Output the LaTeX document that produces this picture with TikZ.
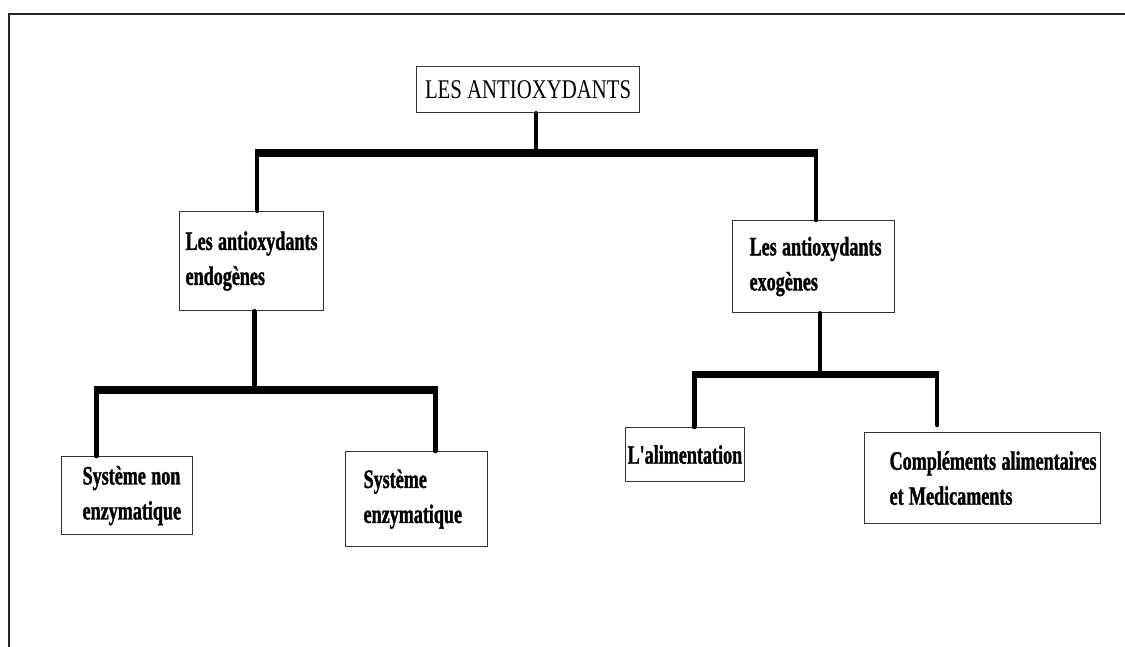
\documentclass[tikz,border=0pt]{standalone}
\usepackage{fontspec}
\setmainfont{Liberation Serif}
\newfontfamily\boxfont[FakeStretch=0.68, Ligatures=NoCommon,
  BoldFeatures={FakeBold=1.2}]{Liberation Serif}
\newfontfamily\titlefont[FakeStretch=0.77]{Liberation Serif}
\usepackage{tikz}

\begin{document}
\begin{tikzpicture}[
  x=1pt, y=-1pt,
  catbox/.style n args={3}{
    draw=black!80, line width=1.2pt, fill=white,
    anchor=north west, inner sep=0pt, align=left,
    minimum width=#1, minimum height=#2, text width=#1,
    font=\boxfont\bfseries\fontsize{26.6}{35}\selectfont,
    execute at begin node={\leftskip=#3pt\rightskip=-30pt plus 1fil
      \spaceskip=0.2em\xspaceskip=0.2em}
  },
  titlebox/.style={
    draw=black!80, line width=1.2pt, fill=white,
    anchor=north west, inner sep=0pt,
    minimum width=223, minimum height=46,
    font=\titlefont\fontsize{27}{32}\selectfont
  },
  stem/.style={line width=4.5pt, black, line cap=round},
  bar/.style={line width=7.5pt, black, shorten <=-2.25pt, shorten >=-2.25pt},
  frame/.style={line width=1.5pt, black!85}
]
\useasboundingbox (0,0) rectangle (1125,646);
\clip (0,0) rectangle (1125,646);
\draw[frame] (1140,14) -- (9,14) -- (9,660);

% boxes
\node[titlebox] (top) at (416,66) {LES ANTIOXYDANTS};
\node[catbox={144}{99}{6}]  (endo)   at (179,211) {Les antioxydants\\endogènes};
\node[catbox={162}{92}{17}] (exo)    at (732,220) {Les antioxydants\\exogènes};
\node[catbox={131}{78}{21}] (nonenz) at (61,456)  {Système non\\enzymatique};
\node[catbox={142}{95}{18}] (enz)    at (345,451) {Système\\enzymatique};
\node[catbox={119}{54}{2}]  (alim)   at (625,427) {L'alimentation};
\node[catbox={236}{91}{25}] (compl)  at (864,432) {Compléments alimentaires\\et Medicaments};

% forks
\coordinate (topL)  at (257,153);
\coordinate (topR)  at (816,153);
\coordinate (endoL) at (96.5,390);
\coordinate (endoR) at (435.5,390);
\coordinate (exoL)  at (694.5,374.5);
\coordinate (exoR)  at (937,374.5);

\draw[stem] ([xshift=8]top.south) -- ([xshift=8]top.south |- topL);
\draw[bar] (topL) -- (topR);
\draw[stem] (topL) -- (topL |- endo.north);
\draw[stem] (topR) -- (topR |- exo.north);

\draw[stem] ([xshift=3]endo.south) -- ([xshift=3]endo.south |- endoL);
\draw[bar] (endoL) -- (endoR);
\draw[stem] (endoL) -- (endoL |- nonenz.north);
\draw[stem] (endoR) -- (endoR |- enz.north);

\draw[stem] ([xshift=6.5]exo.south) -- ([xshift=6.5]exo.south |- exoL);
\draw[bar] (exoL) -- (exoR);
\draw[stem] (exoL) -- (exoL |- alim.north);
\draw[stem, shorten >=7pt] (exoR) -- (exoR |- compl.north);
\end{tikzpicture}
\end{document}
